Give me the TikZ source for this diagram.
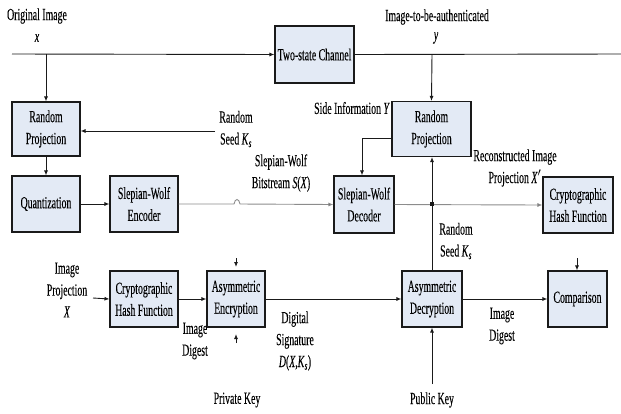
\documentclass[tikz,border=0pt]{standalone}
\usepackage{fontspec}
\setmainfont[FakeStretch=0.58,FakeBold=0.12]{Liberation Serif}
\usetikzlibrary{arrows.meta,calc}
\definecolor{boxfill}{HTML}{E3EAF5}
\definecolor{lnc}{HTML}{1A1A1A}
\tikzset{
  blk/.style={draw=lnc, line width=1.1bp, fill=boxfill, inner sep=0pt, align=center,
    font=\fontsize{17}{22}\selectfont},
  lbl/.style={inner sep=0pt, align=center, font=\fontsize{17}{22}\selectfont},
  wire/.style={draw=lnc, line width=0.9bp},
  arr/.style={wire, -{Latex[length=5bp,width=4bp]}},
  gwire/.style={draw=black!45, line width=0.9bp},
  garr/.style={gwire, -{Latex[length=5bp,width=4bp,fill=lnc]}},
}
\newcommand{\KS}{\textit{K}\textsubscript{\textit{s}}}
\begin{document}
\begin{tikzpicture}[x=1bp,y=-1bp]
\useasboundingbox (0,0) rectangle (621,413);
% blocks
\node[blk, minimum width=79bp, minimum height=57bp] (chan) at (314.5,54.5) {Two-state Channel};
\node[blk, minimum width=68bp, minimum height=54bp] (rp1) at (46,129) {Random\\Projection};
\node[blk, minimum width=68bp, minimum height=56bp] (quant) at (46,204) {Quantization};
\node[blk, minimum width=68bp, minimum height=56bp] (swenc) at (144,204) {Slepian-Wolf\\Encoder};
\node[blk, minimum width=79bp, minimum height=55bp] (rp2) at (431.5,129) {Random\\Projection};
\node[blk, minimum width=60bp, minimum height=57bp] (swdec) at (364,204.5) {Slepian-Wolf\\Decoder};
\node[blk, minimum width=70bp, minimum height=56bp] (hash2) at (578,205) {Cryptographic\\Hash Function};
\node[blk, minimum width=68bp, minimum height=56bp] (hash1) at (144,299) {Cryptographic\\Hash Function};
\node[blk, minimum width=58bp, minimum height=56bp] (enc) at (236,299) {Asymmetric\\Encryption};
\node[blk, minimum width=60bp, minimum height=56bp] (dec) at (432,299) {Asymmetric\\Decryption};
\node[blk, minimum width=59bp, minimum height=56bp] (comp) at (577.5,299) {Comparison};
% labels
\node[lbl] (lorig) at (37,16) {Original Image};
\node[lbl] (lx) at (37,38) {\textit{x}};
\node[lbl] (limg) at (437,17) {Image-to-be-authenticated};
\node[lbl] (ly) at (436,38) {\textit{y}};
\node[lbl] (lseed1) at (236,129) {Random\\Seed \KS};
\node[lbl, anchor=east] (lside) at (390,108) {Side Information \textit{Y}};
\node[lbl] (lbit) at (281,173) {Slepian-Wolf\\Bitstream \textit{S}(\textit{X})};
\node[lbl] (lrec) at (515,168) {Reconstructed Image\\Projection \textit{X}$'$};
\node[lbl] (lseed2) at (456,241) {Random\\Seed \KS};
\node[lbl] (lproj) at (67,290) {Image\\Projection\\\textit{X}};
\node[lbl] (ldig1) at (195,341) {Image\\Digest};
\node[lbl] (lsig) at (295,341) {Digital\\Signature\\\textit{D}(\textit{X},\KS)};
\node[lbl] (lpriv) at (237,400) {Private Key};
\node[lbl] (lpub) at (432,400) {Public Key};
\node[lbl] (ldig2) at (502,326) {Image\\Digest};
% coordinates
\coordinate (xin) at (12,54);
\coordinate (xsplit) at (46,54);
\coordinate (yout) at (621,54);
\coordinate (ysplit) at (432,54);
\coordinate (seed1) at (215,131);
\coordinate (sidebend) at (362,138);
\coordinate (pin) at (93,298);
\coordinate (pubin) at (432,384);
\coordinate (cross) at (432,204);
\coordinate (enctop) at (236,258);
\coordinate (enctopend) at (236,267);
\coordinate (encbot) at (236,343);
\coordinate (encbotend) at (236,334);
\coordinate (comptop) at (577,258);
% connectors
\draw[arr] (xin) -- (chan.west);
\draw[arr] (xsplit) -- (rp1.north);
\draw[wire] (chan.east) -- (yout);
\draw[arr] (ysplit) -- (rp2.north);
\draw[arr] (seed1) -- (seed1 -| rp1.east);
\draw[arr] (rp1.south) -- (quant.north);
\draw[arr] (quant.east) -- (swenc.west);
\draw[garr] (swenc.east) -- (234,204) .. controls (235,198) and (239,198) .. (240,204) -- (swdec.west);
\draw[arr] (sidebend -| rp2.west) -- (sidebend) -- (sidebend |- swdec.north);
\draw[garr] (swdec.east) -- (hash2.west);
\draw[arr] (dec.north) -- (dec.north |- rp2.south);
\fill[lnc] ($(cross)+(-2,-2)$) rectangle ($(cross)+(2,2)$);
\draw[arr] (pin) -- (hash1.west);
\draw[arr] (hash1.east) -- (enc.west);
\draw[arr] (enc.east) -- (dec.west);
\draw[arr] (pubin) -- (dec.south);
\draw[arr] (dec.east) -- (comp.west);
\draw[arr] (enctop) -- (enctopend);
\draw[arr] (encbot) -- (encbotend);
\draw[arr] (comptop) -- (comp.north -| comptop);
\end{tikzpicture}
\end{document}
